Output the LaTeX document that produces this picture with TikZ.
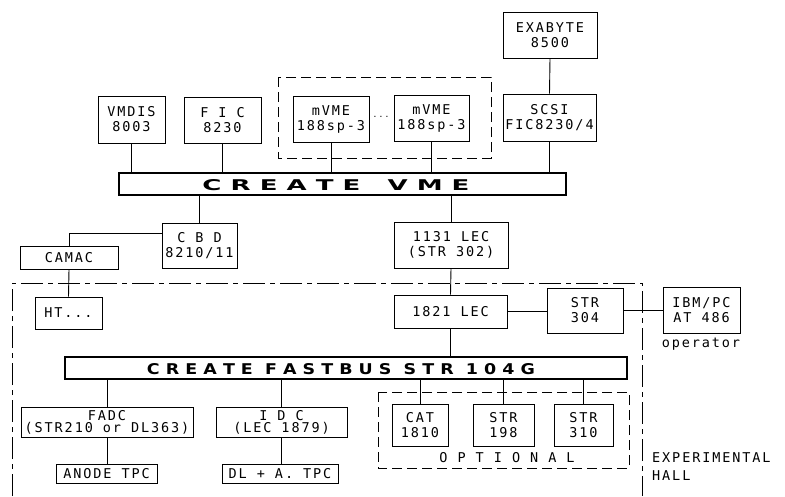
\documentclass[tikz,border=0pt]{standalone}
\usepackage{fontspec}
\usepackage{graphicx}
\newfontfamily\plotfont[LetterSpace=14]{DejaVu Sans Mono}
\newfontfamily\busfont{DejaVu Sans}
\newcommand\bx[6]{\node[boxst, minimum width={(#4-#2)*1pt}, minimum height={(#5-#3)*1pt}] (#1) at ({(#2+#4)/2},{(#3+#5)/2}) {#6};}
\begin{document}
\begin{tikzpicture}[x=1pt,y=-1pt,
  boxst/.style={draw, line width=0.9pt, inner sep=0pt, align=center, font=\plotfont\fontsize{13.5}{15}\selectfont},
  busst/.style={draw, line width=1.1pt, inner sep=0pt},
  conn/.style={line width=0.9pt},
  grp/.style={line width=0.9pt, dash pattern=on 10pt off 5pt},
  hall/.style={line width=0.9pt, dash pattern=on 22pt off 5pt on 5pt off 5pt},
  lbl/.style={inner sep=0pt, font=\plotfont\fontsize{13.5}{18}\selectfont, align=left}]
\useasboundingbox (0,0) rectangle (785,496);
% top part
\bx{exa}{503}{12}{597}{58}{EXABYTE\\8500}
\bx{scsi}{503}{94}{596}{141}{SCSI\\FIC8230/4}
\bx{vmdis}{98}{96}{165}{143}{VMDIS\\8003}
\bx{fic}{184}{97}{261}{143}{F I C\\8230}
\bx{mvmea}{293}{96}{369}{142}{mVME\\188sp-3}
\bx{mvmeb}{394}{95}{469}{141}{mVME\\188sp-3}
\node[inner sep=0pt, font=\plotfont\fontsize{8}{8}\selectfont] (dots) at (381,117) {...};
\draw[grp] (278,77) rectangle (491,158);
\node[busst, minimum width=447pt, minimum height=22pt] (vme) at (342.5,184) {};
\node[inner sep=0pt] (vmetxt) at (336,185.5) {\resizebox{267pt}{11pt}{\busfont\bfseries C R E A T E\ \ \ V M E}};
% middle
\bx{cbd}{162}{223}{237}{268}{C B D\\8210/11}
\bx{lec}{394}{222}{508}{268}{1131 LEC\\(STR 302)}
\bx{camac}{20}{246}{118}{269}{CAMAC}
\bx{ht}{35}{297}{102}{329}{HT...}
\bx{lecb}{394}{295}{507}{328}{1821 LEC}
\bx{strc}{547}{288}{623}{333}{STR\\304}
\bx{ibm}{663}{287}{740}{333}{IBM/PC\\AT 486}
\node[lbl] (oper) at (701,344) {operator};
% fastbus
\node[busst, minimum width=562pt, minimum height=22pt] (fb) at (346,368) {};
\node[inner sep=0pt] (fbtxt) at (341,369.5) {\resizebox{388pt}{11pt}{\busfont\bfseries C R E A T E\ \ F A S T B U S\ \ S T R\ \ 1 0 4 G}};
\bx{fadc}{21}{407}{193}{437}{FADC\\[-3pt](STR210 or DL363)}
\bx{tdc}{216}{407}{347}{437}{I D C\\[-3pt](LEC 1879)}
\bx{anode}{56}{464}{157}{483}{ANODE TPC}
\bx{dl}{222}{464}{338}{483}{DL + A. TPC}
\draw[grp] (378,392) rectangle (629,468);
\bx{cat}{392}{404}{448}{446}{CAT\\1810}
\bx{strb}{473}{404}{534}{446}{STR\\198}
\bx{strd}{554}{404}{613}{446}{STR\\310}
\node[lbl] (opt) at (507,458) {O P T I O N A L};
\node[lbl, anchor=west] (exp) at (652,467) {EXPERIMENTAL\\HALL};
% experimental hall boundary
\draw[hall] (12,496) -- (12,283) -- (642,283) -- (642,496);
% connectors
\draw[conn] (exa.south) -- (scsi.north);
\draw[conn] (scsi.south) -- (scsi.south |- vme.north);
\draw[conn] (vmdis.south) -- (vmdis.south |- vme.north);
\draw[conn] (fic.south) -- (fic.south |- vme.north);
\draw[conn] (mvmea.south) -- (mvmea.south |- vme.north);
\draw[conn] (mvmeb.south) -- (mvmeb.south |- vme.north);
\draw[conn] (vme.south -| cbd.north) -- (cbd.north);
\draw[conn] (vme.south -| lec.north) -- (lec.north);
\draw[conn] ([yshift=12pt]cbd.west) -| (camac.north);
\draw[conn] (camac.south) -- (ht.north);
\draw[conn] (lec.south) -- (lecb.north);
\draw[conn] (lecb.south) -- (lecb.south |- fb.north);
\draw[conn] (lecb.east) -- (lecb.east -| strc.west);
\draw[conn] (strc.east) -- (strc.east -| ibm.west);
\draw[conn] (fb.south -| fadc.north) -- (fadc.north);
\draw[conn] (fb.south -| tdc.north) -- (tdc.north);
\draw[conn] (fadc.south) -- (fadc.south |- anode.north);
\draw[conn] (tdc.south) -- (tdc.south |- dl.north);
\draw[conn] (fb.south -| cat.north) -- (cat.north);
\draw[conn] (fb.south -| strb.north) -- (strb.north);
\draw[conn] (fb.south -| strd.north) -- (strd.north);
\end{tikzpicture}
\end{document}
